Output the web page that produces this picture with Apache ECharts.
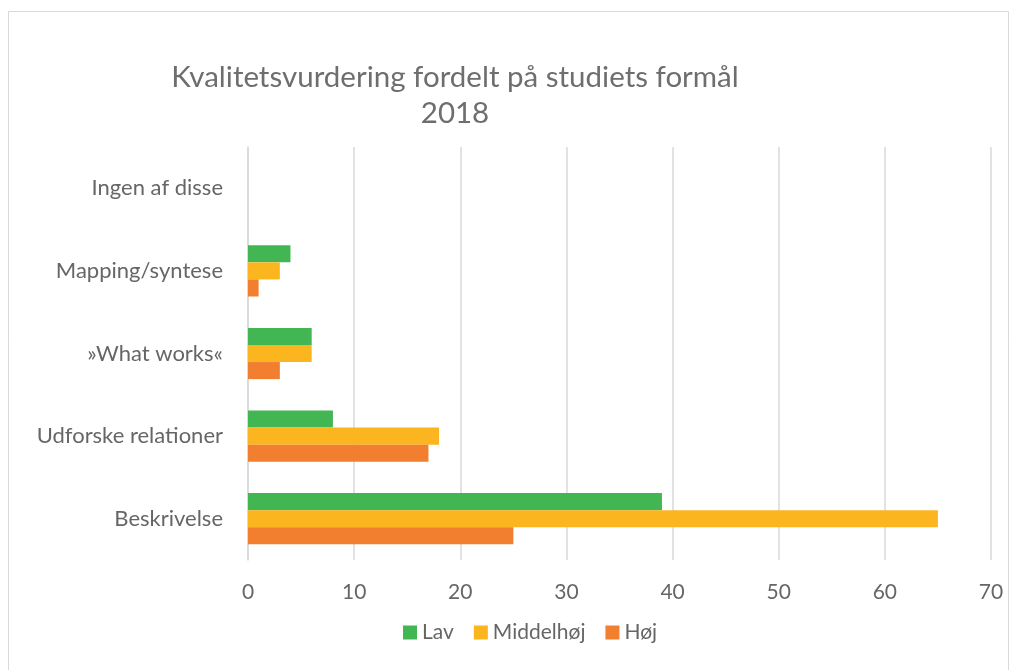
<!DOCTYPE html>
<html>
<head>
<meta charset="utf-8">
<script src="https://cdn.jsdelivr.net/npm/echarts@6/dist/echarts.min.js"></script>
<style>
  html, body { margin: 0; padding: 0; background: #fff; }
  #chart { width: 1010px; height: 670px; }
</style>
</head>
<body>
<div id="chart"></div>
<script>
// kategorier nedefra og op (kategoriakse starter i bunden)
var categories = ['Beskrivelse', 'Udforske relationer', '»What works«', 'Mapping/syntese', 'Ingen af disse'];
var lav = [39, 8, 6, 4, 0];
var middelhoj = [65, 18, 6, 3, 0];
var hoj = [25, 17, 3, 1, 0];
var xTicks = [0, 10, 20, 30, 40, 50, 60, 70];

var chart = echarts.init(document.getElementById('chart'));

var font = 'Lato, "Open Sans", sans-serif';

var option = {
  animation: false,
  textStyle: { fontFamily: font },
  title: {
    text: 'Kvalitetsvurdering fordelt på studiets formål\n2018',
    left: 450,
    top: 54,
    textAlign: 'center',
    textStyle: {
      fontFamily: font,
      fontSize: 29.5,
      fontWeight: 'normal',
      color: '#6e6e6e',
      lineHeight: 36
    }
  },
  graphic: [{
    type: 'rect',
    shape: { x: 8.5, y: 11.5, width: 1000, height: 680 },
    style: { fill: 'none', stroke: '#d9d9d9', lineWidth: 1 },
    silent: true
  }],
  legend: {
    data: ['Lav', 'Middelhøj', 'Høj'],
    bottom: 22,
    left: 398,
    itemWidth: 14,
    itemHeight: 14,
    itemGap: 20,
    icon: 'rect',
    textStyle: { fontFamily: font, fontSize: 21, color: '#666' }
  },
  grid: {
    left: 248,
    right: 19,
    top: 147,
    bottom: 110,
    containLabel: false
  },
  xAxis: {
    type: 'value',
    min: xTicks[0],
    max: xTicks[xTicks.length - 1],
    interval: 10,
    axisLine: { show: false },
    axisTick: { show: false },
    axisLabel: { fontFamily: font, fontSize: 21, color: '#666', margin: 22 },
    splitLine: { lineStyle: { color: '#d9d9d9', width: 1.5 } }
  },
  yAxis: {
    type: 'category',
    data: categories,
    axisLine: { show: true, lineStyle: { color: '#d9d9d9', width: 1.5 } },
    axisTick: { show: false },
    axisLabel: { fontFamily: font, fontSize: 22, color: '#666', margin: 25 }
  },
  series: [
    {
      name: 'Lav',
      type: 'bar',
      data: lav,
      barGap: '0%',
      barCategoryGap: '38%',
      itemStyle: { color: '#42b653' }
    },
    {
      name: 'Middelhøj',
      type: 'bar',
      data: middelhoj,
      barGap: '0%',
      barCategoryGap: '38%',
      itemStyle: { color: '#fbb51f' }
    },
    {
      name: 'Høj',
      type: 'bar',
      data: hoj,
      barGap: '0%',
      barCategoryGap: '38%',
      itemStyle: { color: '#f27e30' }
    }
  ]
};

chart.setOption(option);
</script>
</body>
</html>
